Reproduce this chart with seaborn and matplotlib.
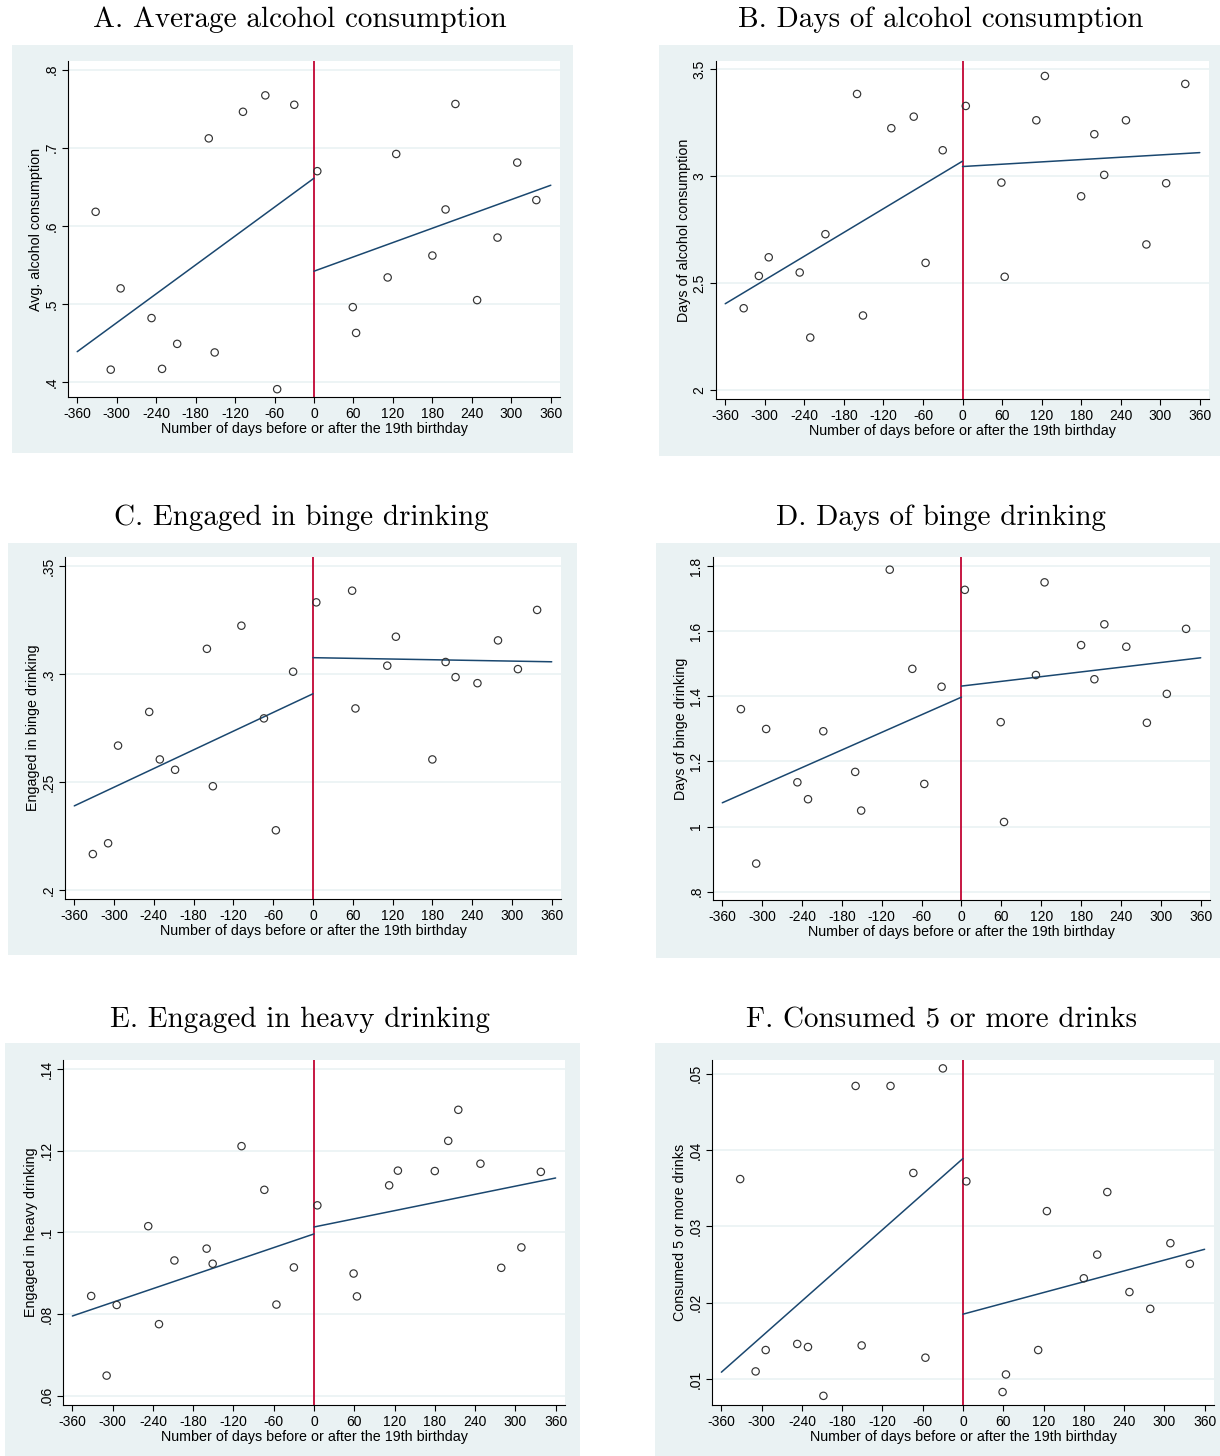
import matplotlib
matplotlib.use("Agg")
import matplotlib.pyplot as plt
import pandas as pd
import seaborn as sns
from matplotlib.patches import Rectangle

# Bin midpoints (days relative to the 19th birthday), shared by all panels
days = [-332, -309, -294, -247, -231, -208, -160, -151, -108, -74, -56, -30,
        5, 59, 64, 112, 125, 180, 200, 215, 248, 279, 309, 338]

# Binned means
avg_alcohol = [0.618, 0.416, 0.520, 0.482, 0.417, 0.449, 0.712, 0.438, 0.746, 0.767, 0.391, 0.755,
               0.670, 0.496, 0.463, 0.534, 0.692, 0.562, 0.621, 0.756, 0.505, 0.585, 0.681, 0.633]
days_alcohol = [2.384, 2.535, 2.622, 2.551, 2.247, 2.730, 3.385, 2.350, 3.225, 3.279, 2.596, 3.122,
                3.329, 2.971, 2.531, 3.262, 3.469, 2.907, 3.197, 3.007, 3.262, 2.682, 2.968, 3.432]
binge = [0.2168, 0.2218, 0.2670, 0.2826, 0.2606, 0.2558, 0.3118, 0.2482, 0.3225, 0.2796, 0.2278, 0.3012,
         0.3333, 0.3387, 0.2842, 0.3040, 0.3174, 0.2606, 0.3057, 0.2987, 0.2959, 0.3157, 0.3024, 0.3298]
days_binge = [1.361, 0.886, 1.300, 1.136, 1.084, 1.293, 1.168, 1.049, 1.790, 1.485, 1.131, 1.430,
              1.728, 1.321, 1.014, 1.466, 1.751, 1.558, 1.453, 1.622, 1.553, 1.319, 1.408, 1.608]
heavy = [0.0844, 0.0649, 0.0822, 0.1015, 0.0775, 0.0931, 0.0960, 0.0923, 0.1211, 0.1104, 0.0823, 0.0914,
         0.1066, 0.0899, 0.0843, 0.1115, 0.1151, 0.1150, 0.1224, 0.1300, 0.1168, 0.0913, 0.0963, 0.1148]
five_plus = [0.0362, 0.0110, 0.0138, 0.0146, 0.0142, 0.0078, 0.0484, 0.0144, 0.0484, 0.0370, 0.0128, 0.0507,
             0.0359, 0.0083, 0.0106, 0.0138, 0.0320, 0.0232, 0.0263, 0.0345, 0.0214, 0.0192, 0.0278, 0.0251]

# Fitted lines (values at -360 and 0, then at 0 and 360)
fit_x_before = [-360, 0]
fit_x_after = [0, 360]
fit_avg_alcohol = ([0.439, 0.661], [0.542, 0.652])
fit_days_alcohol = ([2.405, 3.071], [3.046, 3.111])
fit_binge = ([0.2391, 0.2910], [0.3077, 0.3058])
fit_days_binge = ([1.073, 1.398], [1.432, 1.519])
fit_heavy = ([0.0795, 0.0996], [0.1013, 0.1133])
fit_five_plus = ([0.0109, 0.0389], [0.0185, 0.0270])

x_ticks = [-360, -300, -240, -180, -120, -60, 0, 60, 120, 180, 240, 300, 360]
x_tick_labels = [str(t) for t in x_ticks]

titles = ["A. Average alcohol consumption", "B. Days of alcohol consumption",
          "C. Engaged in binge drinking", "D. Days of binge drinking",
          "E. Engaged in heavy drinking", "F. Consumed 5 or more drinks"]
y_labels = ["Avg. alcohol consumption", "Days of alcohol consumption",
            "Engaged in binge drinking", "Days of binge drinking",
            "Engaged in heavy drinking", "Consumed 5 or more drinks"]
y_ticks = [[0.4, 0.5, 0.6, 0.7, 0.8], [2, 2.5, 3, 3.5], [0.2, 0.25, 0.3, 0.35],
           [0.8, 1.0, 1.2, 1.4, 1.6, 1.8], [0.06, 0.08, 0.10, 0.12, 0.14],
           [0.01, 0.02, 0.03, 0.04, 0.05]]
y_tick_labels = [[".4", ".5", ".6", ".7", ".8"], ["2", "2.5", "3", "3.5"], [".2", ".25", ".3", ".35"],
                 [".8", "1", "1.2", "1.4", "1.6", "1.8"], [".06", ".08", ".1", ".12", ".14"],
                 [".01", ".02", ".03", ".04", ".05"]]
series = [avg_alcohol, days_alcohol, binge, days_binge, heavy, five_plus]
fits = [fit_avg_alcohol, fit_days_alcohol, fit_binge, fit_days_binge, fit_heavy, fit_five_plus]

# layout in pixels: background box, axes box, title centre
W, H = 1220, 1456
layout = [
    dict(box=(12, 45, 573, 453), ax=(68, 61, 560, 397), ylim=(0.381, 0.811), title=(300, 20)),
    dict(box=(659, 45, 1220, 456), ax=(716, 61, 1209, 399), ylim=(1.96, 3.539), title=(941, 20)),
    dict(box=(8, 543, 577, 955), ax=(65, 557, 561, 899), ylim=(0.196, 0.3543), title=(301, 518)),
    dict(box=(656, 543, 1220, 958), ax=(713, 557, 1210, 900), ylim=(0.774, 1.829), title=(941, 518)),
    dict(box=(5, 1043, 580, 1456), ax=(63, 1060, 565, 1405), ylim=(0.0577, 0.1422), title=(300, 1020)),
    dict(box=(655, 1043, 1220, 1456), ax=(712, 1060, 1214, 1405), ylim=(0.0066, 0.0518), title=(942, 1020)),
]

sns.set_style("ticks")
plt.rcParams["font.family"] = ["Liberation Sans", "DejaVu Sans"]
plt.rcParams["text.color"] = "black"
plt.rcParams["axes.labelcolor"] = "black"
plt.rcParams["xtick.color"] = "black"
plt.rcParams["ytick.color"] = "black"

bg = "#EAF2F3"
navy = "#1A476F"
red = "#C10534"

fig = plt.figure(figsize=(W / 100, H / 100), dpi=100)

for i in range(6):
    lay = layout[i]
    bx0, by0, bx1, by1 = lay["box"]
    fig.patches.append(Rectangle((bx0 / W, 1 - by1 / H), (bx1 - bx0) / W, (by1 - by0) / H,
                                 transform=fig.transFigure, facecolor=bg, edgecolor="none", zorder=-5))
    ax0, ay0, ax1, ay1 = lay["ax"]
    ax = fig.add_axes([ax0 / W, 1 - ay1 / H, (ax1 - ax0) / W, (ay1 - ay0) / H], zorder=2)
    ax.set_facecolor("white")

    df = pd.DataFrame({"days": days, "value": series[i]})
    before = pd.DataFrame({"days": fit_x_before, "fit": fits[i][0]})
    after = pd.DataFrame({"days": fit_x_after, "fit": fits[i][1]})

    for t in y_ticks[i]:
        ax.axhline(t, color=bg, lw=1.2, zorder=0)
    ax.axvline(0, color=red, lw=1.3, zorder=1)
    sns.lineplot(data=before, x="days", y="fit", color=navy, lw=1.1, ax=ax, zorder=2)
    sns.lineplot(data=after, x="days", y="fit", color=navy, lw=1.1, ax=ax, zorder=2)
    sns.scatterplot(data=df, x="days", y="value", marker="o", s=28, facecolor="none",
                    edgecolor="#333333", linewidth=0.85, ax=ax, zorder=3)

    ax.set_xlim(-374, 374)
    ax.set_ylim(*lay["ylim"])
    ax.set_xticks(x_ticks)
    ax.set_xticklabels(x_tick_labels, fontsize=10)
    ax.set_yticks(y_ticks[i])
    ax.set_yticklabels(y_tick_labels[i], fontsize=10, rotation=90, va="center")
    ax.tick_params(axis="both", direction="out", length=4, width=0.8, color="black", pad=3)
    ax.set_xlabel("Number of days before or after the 19th birthday", fontsize=10.3, labelpad=1)
    ax.set_ylabel(y_labels[i], fontsize=10.3, labelpad=1)
    for side in ["top", "right"]:
        ax.spines[side].set_visible(False)
    for side in ["left", "bottom"]:
        ax.spines[side].set_linewidth(0.8)
        ax.spines[side].set_color("black")

    tx, ty = lay["title"]
    fig.text(tx / W, 1 - ty / H, titles[i], ha="center", va="center",
             fontsize=21, family="cmr10", color="black")

fig.savefig("out.png", dpi=100)
